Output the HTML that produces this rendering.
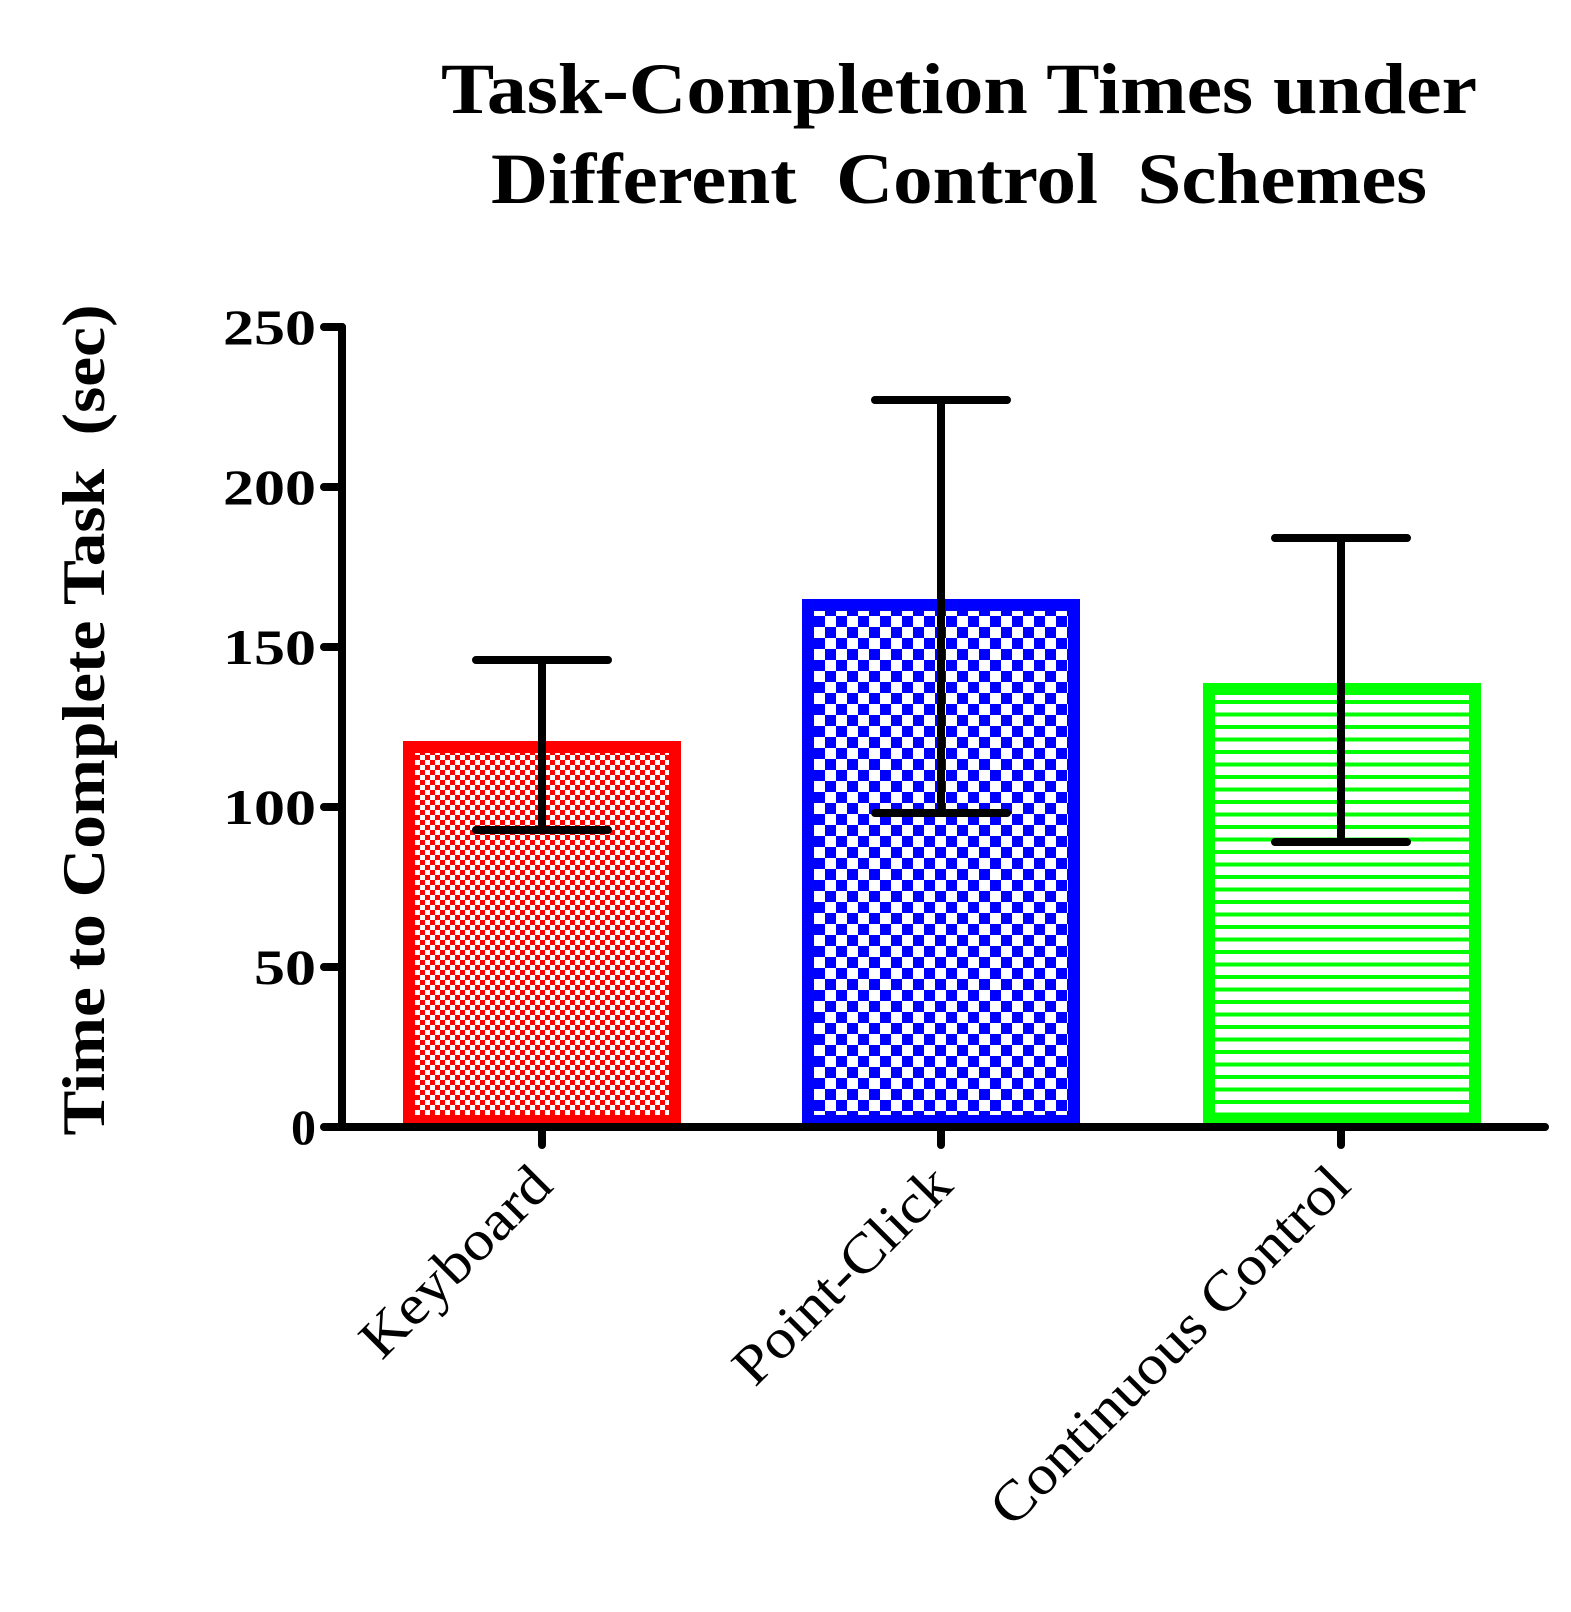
<!DOCTYPE html>
<html><head><style>body{margin:0;background:#fff}svg{display:block}</style></head><body>
<svg width="1571" height="1612" xmlns="http://www.w3.org/2000/svg">
<defs>
<pattern id="pr" width="10" height="10" patternUnits="userSpaceOnUse"><rect width="10" height="10" fill="#fff"/><rect width="5" height="5" fill="#f00"/><rect x="5" y="5" width="5" height="5" fill="#f00"/></pattern>
<pattern id="pb" width="22" height="22" patternUnits="userSpaceOnUse"><rect width="22" height="22" fill="#fff"/><rect width="11" height="11" fill="#00f"/><rect x="11" y="11" width="11" height="11" fill="#00f"/></pattern>
<pattern id="pg" width="12.5" height="12.5" patternUnits="userSpaceOnUse"><rect width="12.5" height="12.5" fill="#fff"/><rect width="12.5" height="4" fill="#0f0"/></pattern>
</defs>
<g font-family="Liberation Serif, serif" font-weight="bold" text-anchor="middle">
<text x="959" y="113" font-size="72" textLength="1036" lengthAdjust="spacingAndGlyphs">Task-Completion Times under</text>
<text x="959" y="203" font-size="72" xml:space="preserve" textLength="936" lengthAdjust="spacingAndGlyphs">Different  Control  Schemes</text>
<text transform="translate(104,720) rotate(-90)" font-size="60" xml:space="preserve" textLength="831" lengthAdjust="spacingAndGlyphs">Time to Complete Task  (sec)</text>
</g>
<g font-family="Liberation Serif, serif" font-weight="bold" font-size="50" text-anchor="end">
<text x="316" y="344" textLength="93" lengthAdjust="spacingAndGlyphs">250</text><text x="316" y="504" textLength="93" lengthAdjust="spacingAndGlyphs">200</text><text x="316" y="664" textLength="93" lengthAdjust="spacingAndGlyphs">150</text>
<text x="316" y="824" textLength="93" lengthAdjust="spacingAndGlyphs">100</text><text x="316" y="984" textLength="62" lengthAdjust="spacingAndGlyphs">50</text><text x="316" y="1144">0</text>
</g>
<g fill="#fff" stroke-width="12">
<rect x="409" y="747" width="266" height="374" fill="url(#pr)" stroke="#f00"/>
<rect x="808" y="605" width="266" height="516" fill="url(#pb)" stroke="#00f"/>
<rect x="1209" y="689" width="266" height="432" fill="url(#pg)" stroke="#0f0"/>
</g>
<g stroke="#000" stroke-width="8" stroke-linecap="round" fill="none">
<path d="M342 327 V1127 H1545"/>
<path d="M324 327H342M324 487H342M324 647H342M324 807H342M324 967H342M324 1127H342"/>
<path d="M542 1127V1145M941 1127V1145M1341 1127V1145"/>
<path d="M542 660V830M476 660H608M476 830H608"/>
<path d="M941 400V813M875 400H1007M875 813H1007"/>
<path d="M1341 538V842M1275 538H1407M1275 842H1407"/>
</g>
<g font-family="Liberation Serif, serif" font-size="56" text-anchor="end">
<text transform="translate(555,1188) rotate(-45)" textLength="245" lengthAdjust="spacingAndGlyphs">Keyboard</text>
<text transform="translate(955,1188) rotate(-45)" textLength="283" lengthAdjust="spacingAndGlyphs">Point-Click</text>
<text transform="translate(1353,1188) rotate(-45)" textLength="482" lengthAdjust="spacingAndGlyphs">Continuous Control</text>
</g>
</svg>
</body></html>
